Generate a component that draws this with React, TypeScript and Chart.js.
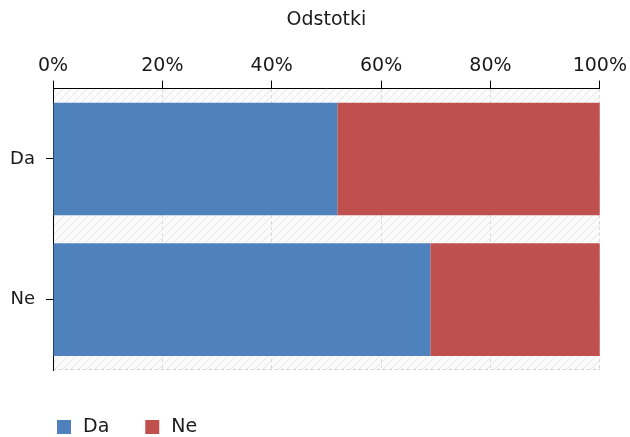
import React, { useEffect, useRef } from "react";
import { Chart, registerables } from "chart.js";

Chart.register(...registerables);

const categories = ["Da", "Ne"];
const seriesNames = ["Da", "Ne"];
const daValues = [52, 69];
const neValues = [48, 31];
const seriesColors = ["#4f81bd", "#c0504d"];
const axisTitle = "Odstotki";
const tickSuffix = "%";

const FONT = "'DejaVu Sans', Verdana, sans-serif";
const TEXT = "#1a1a1a";

const hatchPlugin = {
  id: "hatchBg",
  beforeDraw(chart: any) {
    const { ctx, chartArea: a } = chart;
    const pc = document.createElement("canvas");
    pc.width = 8;
    pc.height = 8;
    const p = pc.getContext("2d")!;
    p.fillStyle = "#fbfbfb";
    p.fillRect(0, 0, 8, 8);
    p.strokeStyle = "#e6e6e6";
    p.lineWidth = 1;
    p.beginPath();
    p.moveTo(0, 8);
    p.lineTo(8, 0);
    p.moveTo(-1, 1);
    p.lineTo(1, -1);
    p.moveTo(7, 9);
    p.lineTo(9, 7);
    p.stroke();
    ctx.save();
    ctx.fillStyle = ctx.createPattern(pc, "repeat");
    ctx.fillRect(a.left, a.top, a.right - a.left, a.bottom - a.top);
    ctx.strokeStyle = "#d0d0d0";
    ctx.lineWidth = 1;
    ctx.setLineDash([3, 3]);
    ctx.beginPath();
    ctx.moveTo(a.left, a.bottom - 0.5);
    ctx.lineTo(a.right, a.bottom - 0.5);
    ctx.stroke();
    ctx.restore();
  },
};

const legendPlugin = {
  id: "bottomLegend",
  afterDraw(chart: any) {
    const ctx = chart.ctx;
    const box = 14;
    let x = chart.chartArea.left + 4;
    const yc = chart.chartArea.bottom + 57;
    ctx.save();
    ctx.font = `19px ${FONT}`;
    ctx.textBaseline = "middle";
    chart.data.datasets.forEach((ds: any) => {
      ctx.fillStyle = ds.backgroundColor;
      ctx.fillRect(x, yc - box / 2, box, box);
      x += box + 12;
      ctx.fillStyle = TEXT;
      ctx.fillText(ds.label, x, yc);
      x += ctx.measureText(ds.label).width + 36;
    });
    ctx.restore();
  },
};

export default function App() {
  const ref = useRef<HTMLCanvasElement>(null);
  useEffect(() => {
    document.body.style.margin = "0";
    const chart = new Chart(ref.current!, {
      type: "bar",
      data: {
        labels: categories,
        datasets: [
          { label: seriesNames[0], data: daValues, backgroundColor: seriesColors[0] },
          { label: seriesNames[1], data: neValues, backgroundColor: seriesColors[1] },
        ],
      },
      options: {
        indexAxis: "y",
        animation: false,
        responsive: false,
        layout: { padding: { top: 0, right: 27, bottom: 67, left: 0 } },
        datasets: { bar: { barPercentage: 0.8, categoryPercentage: 1, borderWidth: 0 } },
        plugins: { legend: { display: false }, tooltip: { enabled: false } },
        scales: {
          x: {
            position: "top",
            stacked: true,
            min: 0,
            max: 100,
            ticks: {
              stepSize: 20,
              padding: 3,
              color: TEXT,
              font: { family: FONT, size: 19 },
              callback: (v: any) => v + tickSuffix,
            },
            grid: {
              color: "#d8d8d8",
              tickColor: "#000",
              tickLength: 8,
              tickBorderDash: [],
            },
            border: { color: "#000", width: 1, dash: [3, 3] },
            title: {
              display: true,
              text: axisTitle,
              color: TEXT,
              font: { family: FONT, size: 19 },
              padding: { top: 9, bottom: 20 },
            },
          },
          y: {
            stacked: true,
            ticks: { padding: 11, color: TEXT, font: { family: FONT, size: 18 } },
            grid: { drawOnChartArea: false, offset: false, tickLength: 7, tickColor: "#000" },
            border: { color: "#000", width: 1 },
            afterFit: (s: any) => {
              s.width = 53;
            },
          },
        },
      },
      plugins: [hatchPlugin, legendPlugin],
    });
    return () => chart.destroy();
  }, []);
  return <canvas ref={ref} width={630} height={437} style={{ display: "block" }} />;
}
